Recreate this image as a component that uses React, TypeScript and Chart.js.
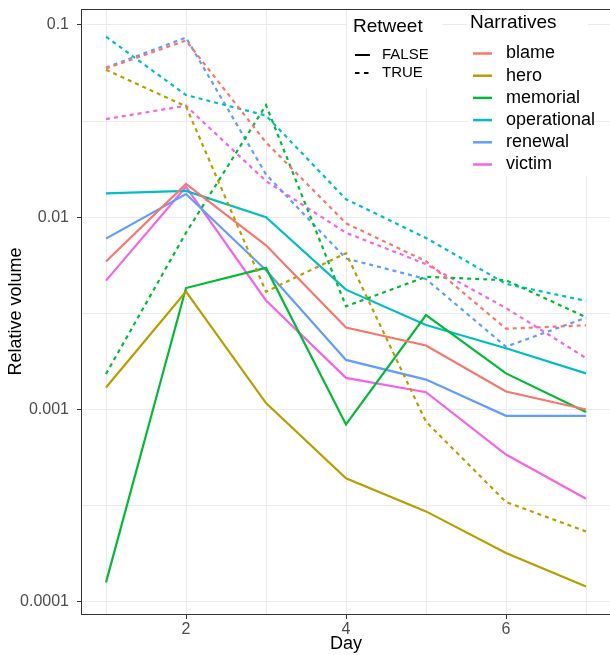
import React, { useEffect, useRef } from 'react';
import { Chart, registerables } from 'chart.js';

Chart.register(...registerables);

const FONT = '"Liberation Sans", Arial, Helvetica, sans-serif';

// ---- data ----
const days = [1, 2, 3, 4, 5, 6, 7];
const narratives = ['blame', 'hero', 'memorial', 'operational', 'renewal', 'victim'];
const narrativeColors = ['#F8766D', '#B79F00', '#00BA38', '#00BFC4', '#619CFF', '#F564E3'];
const retweetLevels = ['FALSE', 'TRUE'];

// Retweet = FALSE (solid)
const blameFalse = [0.00588, 0.0149, 0.00714, 0.00267, 0.00215, 0.00124, 0.001];
const heroFalse = [0.0013, 0.0041, 0.00108, 0.000438, 0.000295, 0.000179, 0.00012];
const memorialFalse = [0.000126, 0.00428, 0.00545, 0.000836, 0.0031, 0.00154, 0.00097];
const operationalFalse = [0.0133, 0.0137, 0.01, 0.0042, 0.00275, 0.00208, 0.00154];
const renewalFalse = [0.00774, 0.0132, 0.0053, 0.00181, 0.00143, 0.000927, 0.000927];
const victimFalse = [0.00468, 0.0144, 0.00369, 0.00146, 0.00123, 0.000583, 0.000343];

// Retweet = TRUE (dashed)
const blameTrue = [0.0594, 0.083, 0.0245, 0.0093, 0.0059, 0.00263, 0.00274];
const heroTrue = [0.0585, 0.0377, 0.0041, 0.0065, 0.000863, 0.00033, 0.000232];
const memorialTrue = [0.00153, 0.0083, 0.0383, 0.00344, 0.0049, 0.0047, 0.00302];
const operationalTrue = [0.0869, 0.0432, 0.0338, 0.0124, 0.0078, 0.0045, 0.00367];
const renewalTrue = [0.06, 0.086, 0.0167, 0.0061, 0.00477, 0.00212, 0.003];
const victimTrue = [0.0324, 0.038, 0.0154, 0.0083, 0.0057, 0.00337, 0.00185];

const falseSeries = [blameFalse, heroFalse, memorialFalse, operationalFalse, renewalFalse, victimFalse];
const trueSeries = [blameTrue, heroTrue, memorialTrue, operationalTrue, renewalTrue, victimTrue];

// ---- axes ----
const xMajorTicks = [2, 4, 6];
const xMinorTicks = [1, 3, 5, 7];
const yMajorTicks = [0.0001, 0.001, 0.01, 0.1];
const yTickLabels = ['0.0001', '0.001', '0.01', '0.1'];
const yMinorTicks = [Math.pow(10, -3.5), Math.pow(10, -2.5), Math.pow(10, -1.5)];
const xMin = 0.7;
const xMax = 7.3;
const yMin = Math.pow(10, -4.064);
const yMax = Math.pow(10, -0.917);

const DASH = [4, 4];

const overlayPlugin = {
  id: 'overlay',
  afterDatasetsDraw(chart: any) {
    const { ctx, chartArea: a } = chart;
    ctx.save();
    // panel border
    ctx.strokeStyle = '#333333';
    ctx.lineWidth = 1;
    ctx.strokeRect(Math.round(a.left) - 0.5, Math.round(a.top) + 0.5, a.right - a.left + 2, Math.round(a.bottom - a.top));

    // legend backgrounds
    ctx.fillStyle = '#ffffff';
    ctx.fillRect(347, 10, 95, 78);
    ctx.fillRect(468, 10, 120, 166);

    ctx.textBaseline = 'middle';
    ctx.textAlign = 'left';
    ctx.fillStyle = '#000000';

    // Retweet legend
    ctx.font = `19px ${FONT}`;
    ctx.fillText('Retweet', 353, 27);
    ctx.font = `15px ${FONT}`;
    const rtY = [55, 73];
    retweetLevels.forEach((lvl, i) => {
      ctx.strokeStyle = '#000000';
      ctx.lineWidth = 2;
      ctx.setLineDash(lvl === 'TRUE' ? [4.5, 4.5] : []);
      ctx.beginPath();
      ctx.moveTo(355, rtY[i]);
      ctx.lineTo(370, rtY[i]);
      ctx.stroke();
      ctx.setLineDash([]);
      ctx.fillText(lvl, 382, rtY[i]);
    });

    // Narratives legend
    ctx.font = `19px ${FONT}`;
    ctx.fillText('Narratives', 470, 23);
    ctx.font = `18px ${FONT}`;
    narratives.forEach((n, i) => {
      const y = 53.5 + i * 22.2;
      ctx.strokeStyle = narrativeColors[i];
      ctx.lineWidth = 2.5;
      ctx.beginPath();
      ctx.moveTo(473, y);
      ctx.lineTo(492, y);
      ctx.stroke();
      ctx.fillText(n, 506, y);
    });
    ctx.restore();
  },
};

export default function App() {
  const canvasRef = useRef<HTMLCanvasElement | null>(null);

  useEffect(() => {
    if (!canvasRef.current) return;
    const datasets: any[] = [];
    narratives.forEach((n, i) => {
      retweetLevels.forEach((lvl) => {
        const vals = lvl === 'TRUE' ? trueSeries[i] : falseSeries[i];
        datasets.push({
          label: `${n} ${lvl}`,
          data: days.map((d, k) => ({ x: d, y: vals[k] })),
          borderColor: narrativeColors[i],
          backgroundColor: narrativeColors[i],
          borderWidth: 2.2,
          borderDash: lvl === 'TRUE' ? DASH : [],
          pointRadius: 0,
          tension: 0,
          fill: false,
        });
      });
    });

    const chart = new Chart(canvasRef.current, {
      type: 'line',
      data: { datasets },
      options: {
        animation: false,
        responsive: false,
        devicePixelRatio: 1,
        layout: { padding: { top: 9, right: 0, left: 0, bottom: 0 } },
        plugins: { legend: { display: false }, tooltip: { enabled: false } },
        scales: {
          x: {
            type: 'linear',
            min: xMin,
            max: xMax,
            afterBuildTicks: (s: any) => {
              s.ticks = [...xMinorTicks, ...xMajorTicks].sort((a, b) => a - b).map((v) => ({ value: v }));
            },
            afterFit: (s: any) => {
              s.height = 41;
              s.paddingLeft = 0;
              s.paddingRight = 0;
            },
            ticks: {
              autoSkip: false,
              maxRotation: 0,
              padding: 1,
              color: '#4D4D4D',
              font: { family: FONT, size: 16 },
              callback: (v: any) => (xMajorTicks.includes(Number(v)) ? String(v) : ''),
            },
            grid: {
              color: '#EBEBEB',
              lineWidth: 1,
              tickLength: 5,
              tickWidth: 1,
              tickColor: (c: any) => (c.tick && xMajorTicks.includes(c.tick.value) ? '#333333' : 'rgba(0,0,0,0)'),
            },
            border: { display: false },
            title: {
              display: true,
              text: 'Day',
              color: '#000000',
              font: { family: FONT, size: 18 },
              padding: { top: 0, bottom: 0 },
            },
          },
          y: {
            type: 'logarithmic',
            min: yMin,
            max: yMax,
            afterBuildTicks: (s: any) => {
              s.ticks = [...yMajorTicks, ...yMinorTicks].sort((a, b) => a - b).map((v) => ({ value: v }));
            },
            afterFit: (s: any) => {
              s.width = 82;
              s.paddingTop = 0;
              s.paddingBottom = 0;
            },
            ticks: {
              autoSkip: false,
              padding: 8,
              color: '#4D4D4D',
              font: { family: FONT, size: 16 },
              callback: (v: any) => {
                const idx = yMajorTicks.findIndex((m) => Math.abs(m - Number(v)) / m < 1e-6);
                return idx >= 0 ? yTickLabels[idx] : '';
              },
            },
            grid: {
              color: '#EBEBEB',
              lineWidth: 1,
              tickLength: 5,
              tickWidth: 1,
              tickColor: (c: any) =>
                c.tick && yMajorTicks.some((m) => Math.abs(m - c.tick.value) / m < 1e-6) ? '#333333' : 'rgba(0,0,0,0)',
            },
            border: { display: false },
            title: {
              display: true,
              text: 'Relative volume',
              color: '#000000',
              font: { family: FONT, size: 18 },
              padding: { top: 5, bottom: 0 },
            },
          },
        },
      },
      plugins: [overlayPlugin],
    } as any);

    return () => chart.destroy();
  }, []);

  return (
    <div style={{ position: 'absolute', left: 0, top: 0, width: 610, height: 655, background: '#ffffff' }}>
      <canvas ref={canvasRef} width={610} height={655} />
    </div>
  );
}
